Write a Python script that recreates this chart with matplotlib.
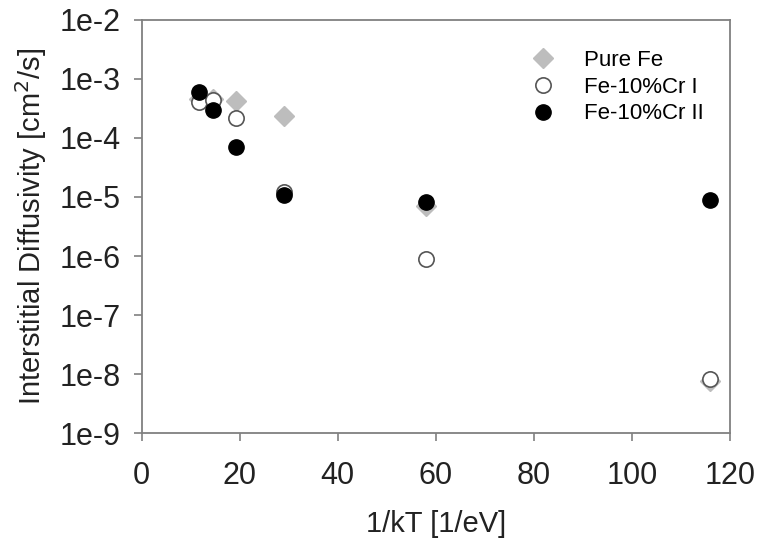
import numpy as np
import matplotlib
matplotlib.use("Agg")
import matplotlib.pyplot as plt
from matplotlib.ticker import FixedLocator, FuncFormatter, NullLocator

plt.rcParams['font.family'] = ['Liberation Sans', 'DejaVu Sans']

# 1/kT [1/eV] for 1000, 800, 600, 400, 200, 100 K
inv_kT = [11.6, 14.5, 19.3, 29.0, 58.0, 116.0]

pure_fe = [4.5e-4, 4.5e-4, 4.3e-4, 2.4e-4, 7.0e-6, 7.5e-9]
fecr_1 = [4.1e-4, 4.4e-4, 2.15e-4, 1.2e-5, 8.9e-7, 8.2e-9]
fecr_2 = [6.1e-4, 3.0e-4, 6.9e-5, 1.07e-5, 8.3e-6, 8.9e-6]

fig = plt.figure(figsize=(7.59, 5.38), dpi=100)
ax = fig.add_axes([0.1867, 0.195, 0.775, 0.768])

ax.plot(inv_kT, pure_fe, 'D', ms=10, color='#bdbdbd', mec='#bdbdbd', label='Pure Fe')
ax.plot(inv_kT, fecr_1, 'o', ms=11, mfc='white', mec='#555555', mew=1.2, label='Fe-10%Cr I')
ax.plot(inv_kT, fecr_2, 'o', ms=11, color='black', label='Fe-10%Cr II')

ax.set_yscale('log')
ax.set_xlim(0, 120)
ax.set_ylim(1e-9, 1e-2)
ax.set_xticks(np.arange(0, 121, 20))
ax.yaxis.set_major_locator(FixedLocator([10.0 ** k for k in range(-9, -1)]))
ax.yaxis.set_minor_locator(NullLocator())
ax.yaxis.set_major_formatter(FuncFormatter(lambda v, p: "1e%d" % round(np.log10(v))))

for s in ax.spines.values():
    s.set_color('#808080')
    s.set_linewidth(1.3)
ax.tick_params(direction='out', length=6, width=1.2, color='#808080',
               labelsize=22, labelcolor='#222222')
ax.tick_params(axis='x', pad=14)
ax.tick_params(axis='y', pad=9)

ax.set_xlabel('1/kT [1/eV]', fontsize=21, color='#222222', labelpad=14)
ax.set_ylabel('Interstitial Diffusivity [cm$^2$/s]', fontsize=21, color='#222222', labelpad=8)

ax.legend(loc='upper right', frameon=False, fontsize=16, handletextpad=0.85,
          labelspacing=0.25, bbox_to_anchor=(0.99, 0.975))

fig.savefig('out.png', dpi=100)
